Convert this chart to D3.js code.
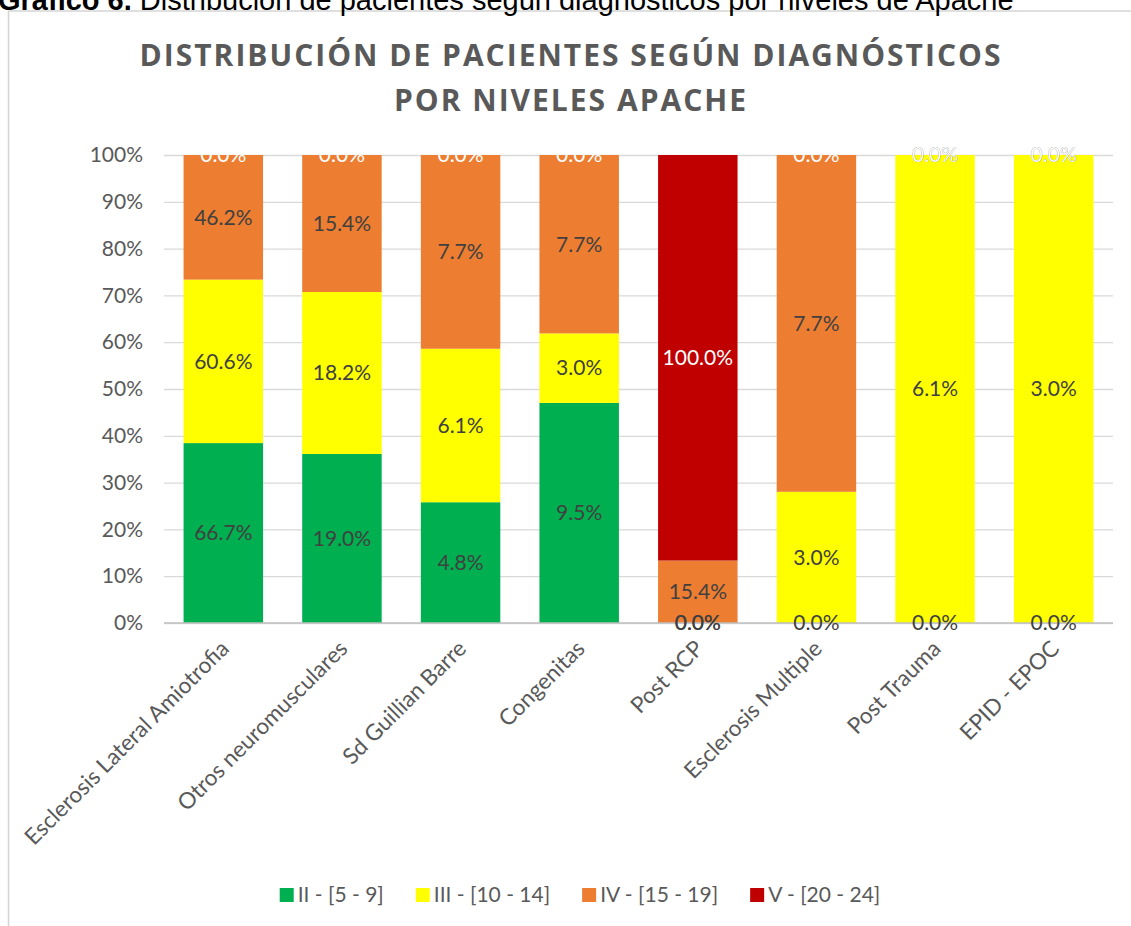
<!DOCTYPE html>
<html lang="es">
<head>
  <meta charset="UTF-8" />
  <title>Distribución de pacientes según diagnósticos</title>
  <style>
    html, body { margin: 0; padding: 0; background: #fff; overflow: hidden; }
    svg { display: block; }
    .tick text { font-family: Lato, sans-serif; font-size: 21px; fill: #595959; }
    .label { font-family: Lato, sans-serif; font-size: 21px; text-anchor: middle; }
  </style>
  <script src="https://d3js.org/d3.v7.min.js"></script>
</head>
<body>
<svg id="chart" width="1131" height="926"></svg>
<script>
  // categories and column-percent values shown as labels (bars are 100% stacked)
  const categories = ["Esclerosis Lateral Amiotrofia", "Otros neuromusculares", "Sd Guillian Barre",
    "Congenitas", "Post RCP", "Esclerosis Multiple", "Post Trauma", "EPID - EPOC"];
  const nivelII  = [66.7, 19.0, 4.8, 9.5, 0.0, 0.0, 0.0, 0.0];
  const nivelIII = [60.6, 18.2, 6.1, 3.0, 0.0, 3.0, 6.1, 3.0];
  const nivelIV  = [46.2, 15.4, 7.7, 7.7, 15.4, 7.7, 0.0, 0.0];
  const nivelV   = [0.0, 0.0, 0.0, 0.0, 100.0, 0.0, 0.0, 0.0];
  const seriesNames = ["II - [5 - 9]", "III - [10 - 14]", "IV - [15 - 19]", "V - [20 - 24]"];
  const yTicks = [0, 0.1, 0.2, 0.3, 0.4, 0.5, 0.6, 0.7, 0.8, 0.9, 1];

  const colors = ["#00B050", "#FFFF00", "#ED7D31", "#C00000"];
  const labelColors = ["#404040", "#404040", "#404040", "#ffffff"];
  const keys = ["ii", "iii", "iv", "v"];

  const rows = categories.map((c, i) => ({
    cat: c, ii: nivelII[i], iii: nivelIII[i], iv: nivelIV[i], v: nivelV[i]
  }));

  const svg = d3.select("#chart");
  const margin = { left: 164, right: 18, top: 155, bottom: 303 };
  const W = 1131, H = 926;

  // frame of the chart object
  svg.append("line").attr("x1", 8.5).attr("x2", W).attr("y1", 11).attr("y2", 11)
    .attr("stroke", "#d4d4d4").attr("stroke-width", 1.5);
  svg.append("line").attr("x1", 8.5).attr("x2", 8.5).attr("y1", 11).attr("y2", H)
    .attr("stroke", "#d4d4d4").attr("stroke-width", 1.5);

  // figure caption, partly cut by the top edge as in the source
  const cap = svg.append("text").attr("x", -2).attr("y", 10)
    .style("font-family", "'Liberation Sans', Arial, sans-serif").style("font-size", "29px").attr("fill", "#000");
  cap.append("tspan").style("font-weight", "bold").text("Gráfico 6.");
  cap.append("tspan").text(" Distribución de pacientes según diagnósticos por niveles de Apache");

  // title
  const title = svg.append("text").attr("text-anchor", "middle")
    .style("font-family", "'Open Sans', sans-serif").style("font-weight", "bold")
    .style("font-size", "30px").style("letter-spacing", "2px").attr("fill", "#595959");
  title.append("tspan").attr("x", 571).attr("y", 66).text("DISTRIBUCIÓN DE PACIENTES SEGÚN DIAGNÓSTICOS");
  title.append("tspan").attr("x", 571).attr("y", 111).text("POR NIVELES APACHE");

  const x = d3.scaleBand().domain(categories)
    .range([margin.left, W - margin.right]).paddingInner(0.33).paddingOuter(0.165);
  const y = d3.scaleLinear().domain([0, 1]).range([H - margin.bottom, margin.top]);

  // y axis with gridlines
  const yAxis = svg.append("g").attr("transform", `translate(${margin.left},0)`)
    .call(d3.axisLeft(y).tickValues(yTicks).tickFormat(d3.format(".0%"))
      .tickSize(-(W - margin.right - margin.left)).tickPadding(21));
  yAxis.select(".domain").remove();
  yAxis.selectAll(".tick line").attr("stroke", "#d9d9d9").attr("stroke-width", 1.3);

  const stack = d3.stack().keys(keys).offset(d3.stackOffsetExpand);
  const stacked = stack(rows);

  const bars = svg.append("g");
  stacked.forEach((s, si) => {
    bars.selectAll(null).data(s).join("rect")
      .attr("x", d => x(d.data.cat))
      .attr("width", x.bandwidth())
      .attr("y", d => y(d[1]))
      .attr("height", d => y(d[0]) - y(d[1]))
      .attr("fill", colors[si]);
  });

  // x baseline
  svg.append("line").attr("x1", margin.left).attr("x2", W - margin.right)
    .attr("y1", y(0)).attr("y2", y(0)).attr("stroke", "#bfbfbf").attr("stroke-width", 1.3);

  // data labels
  const labels = svg.append("g");
  stacked.forEach((s, si) => {
    labels.selectAll(null).data(s).join("text")
      .attr("class", "label")
      .attr("x", d => x(d.data.cat) + x.bandwidth() / 2)
      .attr("y", d => y((d[0] + d[1]) / 2))
      .attr("dy", "0.35em")
      .attr("fill", labelColors[si])
      .text(d => d3.format(".1f")(d.data[s.key]) + "%");
  });

  // x axis labels, rotated
  svg.append("g").selectAll("text").data(categories).join("text")
    .attr("transform", d => `translate(${x(d) + x.bandwidth() / 2 + 7},${y(0) + 27}) rotate(-45)`)
    .attr("text-anchor", "end")
    .style("font-family", "Lato, sans-serif").style("font-size", "22.5px")
    .attr("fill", "#595959")
    .text(d => d);

  // legend
  const legend = svg.append("g").attr("transform", "translate(0,895)");
  let lx = 0;
  seriesNames.forEach((n, i) => {
    const g = legend.append("g");
    g.append("rect").attr("x", 0).attr("y", -7).attr("width", 14).attr("height", 14).attr("fill", colors[i]);
    const t = g.append("text").attr("x", 18).attr("dy", "0.35em")
      .style("font-family", "Lato, sans-serif").style("font-size", "21px").attr("fill", "#595959").text(n);
    const w = 18 + t.node().getComputedTextLength();
    g.attr("transform", `translate(${lx},0)`);
    lx += w + 32;
  });
  const total = lx - 32;
  legend.attr("transform", `translate(${580 - total / 2},895)`);
</script>
</body>
</html>
